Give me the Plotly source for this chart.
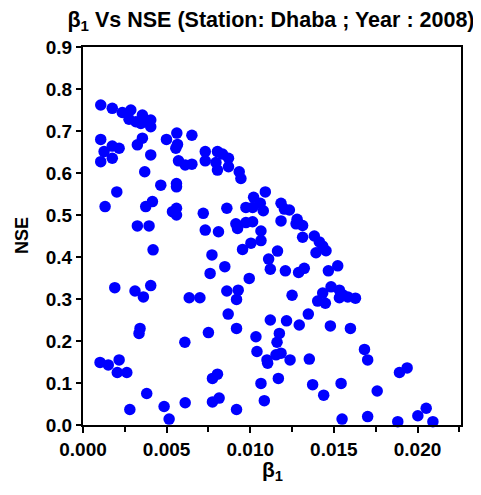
import plotly.graph_objects as go

beta1 = [0.00106, 0.00175, 0.00235, 0.00286, 0.00275, 0.00316, 0.00355, 0.00375, 0.00405, 0.00405,
         0.00346, 0.00106, 0.00175, 0.00216, 0.00126, 0.00175, 0.00106, 0.00325, 0.00355, 0.00405,
         0.00499, 0.00561, 0.00651, 0.00555, 0.00565, 0.00571, 0.00611, 0.00651, 0.00731, 0.00731,
         0.00369, 0.00465, 0.00559, 0.00559, 0.00202, 0.00132, 0.00375, 0.00415, 0.00535, 0.00559,
         0.00559, 0.00719, 0.00325, 0.00395, 0.00731, 0.00419, 0.00771, 0.00760, 0.00190, 0.00311,
         0.00361, 0.00405, 0.00635, 0.00699, 0.00341, 0.00335, 0.00609, 0.00750, 0.00102, 0.00151,
         0.00216, 0.00205, 0.00262, 0.00381, 0.00280, 0.00485, 0.00515, 0.00611, 0.00804, 0.00834,
         0.00870, 0.00795, 0.00804, 0.00870, 0.00934, 0.00944, 0.01090, 0.01020, 0.01060, 0.00974,
         0.01014, 0.01078, 0.01184, 0.01204, 0.01234, 0.00860, 0.01184, 0.01280, 0.01274, 0.01313,
         0.00914, 0.00924, 0.00974, 0.01014, 0.00810, 0.01064, 0.01313, 0.01383, 0.01413, 0.01433,
         0.01453, 0.01393, 0.01004, 0.01064, 0.00954, 0.01163, 0.01110, 0.01120, 0.01210, 0.01289,
         0.01323, 0.01523, 0.01467, 0.00848, 0.00994, 0.00860, 0.00928, 0.00918, 0.01250, 0.01433,
         0.01483, 0.01533, 0.01403, 0.01449, 0.01533, 0.01583, 0.01629, 0.01553, 0.00868, 0.01120,
         0.01217, 0.01293, 0.01347, 0.01479, 0.01599, 0.00918, 0.01034, 0.01174, 0.01160, 0.01040,
         0.01100, 0.01104, 0.01154, 0.01184, 0.01238, 0.01353, 0.01683, 0.01702, 0.00774, 0.00804,
         0.01064, 0.01168, 0.01373, 0.01543, 0.01439, 0.00774, 0.00814, 0.00918, 0.01084, 0.01549,
         0.01702, 0.01892, 0.01938, 0.01759, 0.02052, 0.02002, 0.01882, 0.02092]

nse = [0.762, 0.754, 0.744, 0.750, 0.728, 0.722, 0.738, 0.722, 0.726, 0.710,
       0.718, 0.680, 0.664, 0.659, 0.651, 0.635, 0.627, 0.667, 0.683, 0.643,
       0.680, 0.695, 0.690, 0.659, 0.668, 0.629, 0.619, 0.621, 0.651, 0.629,
       0.603, 0.571, 0.575, 0.567, 0.555, 0.520, 0.520, 0.532, 0.508, 0.516,
       0.500, 0.504, 0.474, 0.474, 0.464, 0.417, 0.405, 0.361, 0.327, 0.319,
       0.305, 0.332, 0.303, 0.303, 0.230, 0.218, 0.197, 0.220, 0.149, 0.143,
       0.155, 0.125, 0.125, 0.075, 0.037, 0.044, 0.014, 0.053, 0.651, 0.645,
       0.635, 0.625, 0.607, 0.615, 0.603, 0.587, 0.555, 0.542, 0.528, 0.518,
       0.518, 0.510, 0.528, 0.514, 0.512, 0.516, 0.486, 0.490, 0.479, 0.475,
       0.479, 0.468, 0.482, 0.484, 0.460, 0.462, 0.447, 0.450, 0.436, 0.426,
       0.415, 0.410, 0.433, 0.439, 0.418, 0.414, 0.395, 0.371, 0.367, 0.363,
       0.373, 0.379, 0.367, 0.377, 0.349, 0.319, 0.321, 0.299, 0.309, 0.314,
       0.329, 0.321, 0.295, 0.290, 0.303, 0.305, 0.302, 0.310, 0.264, 0.250,
       0.248, 0.238, 0.264, 0.236, 0.230, 0.230, 0.210, 0.218, 0.197, 0.175,
       0.155, 0.147, 0.167, 0.171, 0.155, 0.157, 0.180, 0.155, 0.111, 0.121,
       0.099, 0.111, 0.096, 0.099, 0.071, 0.055, 0.064, 0.037, 0.058, 0.014,
       0.020, 0.125, 0.136, 0.081, 0.040, 0.022, 0.008, 0.008]

x_ticks = [0.000, 0.005, 0.010, 0.015, 0.020]
x_ticklabels = ["0.000", "0.005", "0.010", "0.015", "0.020"]
y_ticks = [0.0, 0.1, 0.2, 0.3, 0.4, 0.5, 0.6, 0.7, 0.8, 0.9]
y_ticklabels = ["0.0", "0.1", "0.2", "0.3", "0.4", "0.5", "0.6", "0.7", "0.8", "0.9"]

FONT = "Liberation Sans, Arial, sans-serif"

fig = go.Figure()
fig.add_trace(go.Scatter(
    x=beta1, y=nse, mode="markers",
    marker=dict(color="#0000FF", size=11.5, line=dict(width=0)),
    cliponaxis=False, showlegend=False,
))

# page body has an 8px default margin, so the figure is sized/offset to compensate
fig.update_layout(
    width=473, height=487,
    margin=dict(l=75, r=20, t=39, b=70),
    paper_bgcolor="white", plot_bgcolor="white",
    font=dict(family=FONT, color="black"),
    title=dict(
        text="<b>β<sub>1</sub> Vs NSE (Station: Dhaba ; Year : 2008)</b>",
        font=dict(size=21.5, family=FONT, color="black"),
        x=0.556, xanchor="center", xref="container",
        y=0.977, yanchor="middle", yref="container",
    ),
    xaxis=dict(
        range=[0, 0.0226], showgrid=False, zeroline=False,
        showline=True, linecolor="black", linewidth=2, mirror=True,
        tickmode="array", tickvals=x_ticks, ticktext=x_ticklabels,
        ticks="outside", ticklen=6, tickwidth=2, tickcolor="black",
        tickfont=dict(size=19, family=FONT, color="black", weight="bold"),
        minor=dict(dtick=0.0025, tick0=0, ticks="outside", ticklen=5, tickwidth=2, tickcolor="black", showgrid=False),
    ),
    yaxis=dict(
        range=[0, 0.9], showgrid=False, zeroline=False,
        showline=True, linecolor="black", linewidth=2, mirror=True,
        tickmode="array", tickvals=y_ticks, ticktext=y_ticklabels,
        ticks="outside", ticklen=5, tickwidth=2, tickcolor="black",
        tickfont=dict(size=19, family=FONT, color="black", weight="bold"),
    ),
    annotations=[
        dict(text="<b>β<sub>1</sub></b>", xref="paper", yref="paper", x=0.5, y=0,
             xanchor="center", yanchor="middle", yshift=-46, showarrow=False,
             font=dict(size=21, family=FONT, color="black")),
        dict(text="<b>NSE</b>", xref="paper", yref="paper", x=0, y=0.5,
             xanchor="center", yanchor="middle", xshift=-61, textangle=-90, showarrow=False,
             font=dict(size=18, family=FONT, color="black")),
    ],
)

fig.write_html("out.html")
